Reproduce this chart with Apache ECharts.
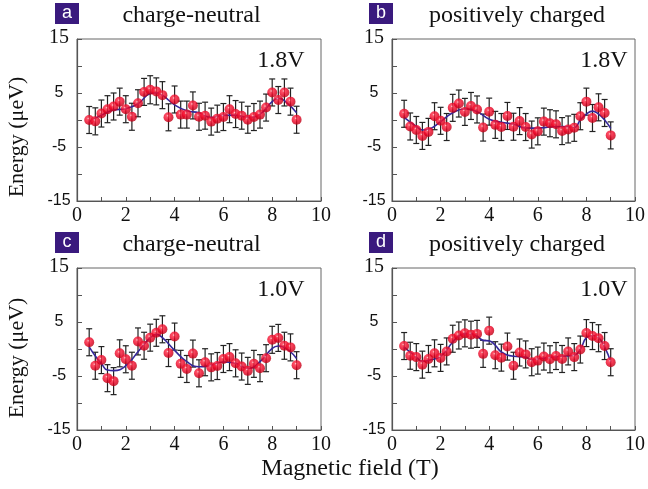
<!DOCTYPE html>
<html>
<head>
<meta charset="utf-8">
<script src="https://cdn.jsdelivr.net/npm/echarts@6/dist/echarts.min.js"></script>
<style>html,body{margin:0;padding:0;background:#fff}#c{width:648px;height:489px}</style>
</head>
<body>
<div id="c"></div>
<script>
// ---- data ----
const fieldT = [0.5,0.75,1.0,1.25,1.5,1.75,2.0,2.25,2.5,2.75,3.0,3.25,3.5,3.75,4.0,4.25,4.5,4.75,5.0,5.25,5.5,5.75,6.0,6.25,6.5,6.75,7.0,7.25,7.5,7.75,8.0,8.25,8.5,8.75,9.0];

const energyA = [0,-0.25,1.2,2.0,2.5,3.4,2.0,0.6,3.1,5.2,5.6,5.3,4.6,0.5,3.8,1.0,1.0,2.7,0.6,0.8,-0.3,0.25,0.55,2.0,1.1,0.8,0.05,0.55,1.0,2.3,5.1,3.7,5.1,3.4,0.05];
const energyB = [1.15,-1.2,-1.85,-2.95,-2.2,0.7,-0.15,-1.3,2.25,3.05,1.5,2.6,1.95,-1.4,1.55,-0.9,-1.3,0.75,-1.25,-0.2,-1.3,-2.7,-2.1,-0.3,-0.6,-0.8,-2.05,-1.75,-1.45,0.7,3.4,0.37,2.35,1.3,-2.85];
const energyC = [1.25,-3.1,-2.05,-5.4,-5.95,-0.8,-1.9,-3.1,1.4,0.6,2.1,3.0,3.65,-0.75,2.3,-2.75,-3.7,-0.85,-4.5,-2.45,-3.4,-3.15,-1.85,-1.5,-2.65,-3.25,-4.05,-2.75,-3.55,-1.7,1.7,2.05,0.6,0.3,-3.0];
const energyD = [0.55,-1.25,-1.5,-2.9,-1.85,-0.8,-1.65,-0.45,1.9,2.5,2.9,2.65,2.8,-0.9,3.4,-1.15,-1.6,0.45,-3.1,-0.65,-1.0,-2.45,-2.15,-1.4,-1.9,-1.3,-1.85,-0.45,-1.5,-0.1,2.95,2.4,2.0,0.55,-2.45];

const errA = [2.5,2.5,2.5,2.5,2.5,2.5,2.5,2.5,2.5,2.5,2.6,2.5,2.5,2.5,2.5,2.5,2.5,2.5,2.5,2.5,2.5,2.5,2.5,2.5,2.5,2.5,2.5,2.5,2.5,2.5,2.5,2.5,2.5,2.5,2.5];
const errB = [2.5,2.5,2.5,2.5,2.5,2.5,2.5,2.5,2.5,2.5,2.5,2.5,2.5,2.5,2.5,2.5,2.5,2.5,2.5,2.5,2.5,2.5,2.5,2.5,2.5,2.5,2.5,2.5,2.5,2.5,2.5,2.5,2.5,2.5,2.5];
const errC = [2.5,2.5,2.5,2.5,2.5,2.5,2.5,2.5,2.5,2.5,2.5,2.5,2.5,2.5,2.5,2.5,2.5,2.5,2.5,2.5,2.5,2.5,2.5,2.5,2.5,2.5,2.5,2.5,2.5,2.5,2.5,2.5,2.5,2.5,2.5];
const errD = [2.5,2.5,2.5,2.5,2.5,2.5,2.5,2.5,2.5,2.5,2.5,2.5,2.5,2.5,2.5,2.5,2.5,2.5,2.5,2.5,2.5,2.5,2.5,2.5,2.5,2.5,2.5,2.5,2.5,2.5,2.5,2.5,2.5,2.5,2.5];

const fitXA = [0.5,1.0,1.5,2.0,2.5,3.0,3.25,3.5,4.0,4.5,5.0,5.5,6.0,6.5,7.0,7.5,8.0,8.25,8.5,9.0];
const fitYA = [-0.3,0.9,1.85,2.1,3.0,4.9,5.05,4.6,2.8,1.7,1.35,0.45,0.85,0.9,0.45,1.1,3.4,4.0,3.6,1.35];
const fitXB = [0.5,1.0,1.25,1.5,2.0,2.5,3.0,3.5,4.0,4.5,5.0,5.5,6.0,6.5,7.0,7.5,7.75,8.0,8.25,8.5,8.75,9.0];
const fitYB = [0.5,-1.2,-1.85,-1.7,-0.3,1.35,2.05,1.55,0.15,-0.4,-0.8,-1.45,-1.5,-1.3,-1.2,-1.35,0,1.1,1.65,1.1,0,-1.55];
const fitXC = [0.5,0.75,1.0,1.25,1.5,2.0,2.5,3.0,3.25,3.5,4.0,4.5,5.0,5.5,6.0,6.5,7.0,7.5,8.0,8.25,8.5,9.0];
const fitYC = [0.4,-1.3,-2.7,-3.9,-4.0,-3.1,-0.5,2.1,2.7,2.1,-0.25,-2.35,-3.3,-3.0,-2.4,-2.65,-3.6,-2.35,0.1,0.55,0.3,-1.75];
const fitXD = [0.5,1.0,1.25,1.5,2.0,2.5,2.75,3.0,3.25,3.5,3.75,4.0,4.25,4.5,5.0,5.5,5.75,6.0,6.5,7.0,7.5,7.75,8.0,8.25,8.5,8.75,9.0];
const fitYD = [0.35,-1.5,-2.3,-2.1,-1.35,1.3,2.45,2.85,2.85,2.35,1.6,1.5,0.7,-0.55,-1.35,-1.5,-2.0,-1.85,-1.55,-1.35,-1.15,-0.05,2.1,2.5,2.1,0.4,-2.4];

const xTicksShown = [0,2,4,6,8,10];
const yTicksShown = [15,5,-5,-15];

const panelLetters = ['a','b','c','d'];
const panelTitles = ['charge-neutral','positively charged','charge-neutral','positively charged'];
const voltages = ['1.8V','1.8V','1.0V','1.0V'];

// ---- chart ----
const chart = echarts.init(document.getElementById('c'), null, {renderer:'canvas'});
const SERIF = 'Liberation Serif';
const SANS = 'Liberation Sans';

const grids = [
  {left:77, top:39, width:244, height:162},
  {left:392, top:39, width:244, height:162},
  {left:77, top:268, width:244, height:162},
  {left:392, top:268, width:244, height:162}
];
const energies = [energyA, energyB, energyC, energyD];
const errs = [errA, errB, errC, errD];
const fitXs = [fitXA, fitXB, fitXC, fitXD];
const fitYs = [fitYA, fitYB, fitYC, fitYD];

const axisColor = '#555';
const xAxes = [], yAxes = [], series = [];
grids.forEach((g, i) => {
  xAxes.push({
    gridIndex:i, type:'value', min:0, max:10, interval:1,
    axisLine:{show:true, onZero:false, lineStyle:{color:axisColor, width:1.2}},
    axisTick:{show:true, inside:true, length:4, lineStyle:{color:axisColor}},
    splitLine:{show:false},
    axisLabel:{show:true, margin:5, color:'#111', fontFamily:SERIF, fontSize:20,
      formatter: v => xTicksShown.indexOf(v) >= 0 ? String(v) : ''}
  });
  yAxes.push({
    gridIndex:i, type:'value', min:-15, max:15, interval:5,
    axisLine:{show:true, onZero:false, lineStyle:{color:axisColor, width:1.2}},
    axisTick:{show:true, inside:true, length:5, lineStyle:{color:axisColor}},
    splitLine:{show:false},
    axisLabel:{show:true, margin:18, align:'center', color:'#111',
      formatter: v => yTicksShown.indexOf(v) < 0 ? '' : (v === 15 ? '{r|15}' : '{s|' + v + '}'),
      rich:{ r:{fontFamily:SERIF, fontSize:20, color:'#111', padding:[0,0,3,0]}, s:{fontFamily:SANS, fontSize:16, color:'#111'} }
    }
  });
  const pts = fieldT.map((x, k) => [x, energies[i][k], errs[i][k]]);
  series.push({
    type:'custom', xAxisIndex:i, yAxisIndex:i, z:2,
    data: pts,
    renderItem: (params, api) => {
      const x = api.value(0), y = api.value(1), e = api.value(2);
      const top = api.coord([x, y + e]);
      const bot = api.coord([x, y - e]);
      const cw = 3;
      const ls = {stroke:'#222', lineWidth:1.2};
      return {type:'group', children:[
        {type:'line', shape:{x1:top[0], y1:top[1], x2:bot[0], y2:bot[1]}, style:ls},
        {type:'line', shape:{x1:top[0]-cw, y1:top[1], x2:top[0]+cw, y2:top[1]}, style:ls},
        {type:'line', shape:{x1:bot[0]-cw, y1:bot[1], x2:bot[0]+cw, y2:bot[1]}, style:ls}
      ]};
    },
    silent:true
  });
  series.push({
    type:'line', xAxisIndex:i, yAxisIndex:i, z:3,
    data: fitXs[i].map((x, k) => [x, fitYs[i][k]]),
    smooth:0.5, showSymbol:false, symbol:'none',
    lineStyle:{color:'#35279a', width:1.6}, silent:true
  });
  series.push({
    type:'scatter', xAxisIndex:i, yAxisIndex:i, z:4,
    data: pts.map(p => [p[0], p[1]]),
    symbol:'circle', symbolSize:10,
    itemStyle:{
      color:{type:'radial', x:0.4, y:0.35, r:0.65, colorStops:[
        {offset:0, color:'#ffc4cc'}, {offset:0.18, color:'#ff2a44'}, {offset:0.6, color:'#ea0022'}, {offset:1, color:'#bb0014'}]},
      borderWidth:0
    },
    silent:true
  });
});

const graphics = [];
const boxPos = [[55,3],[369,3],[55,232],[369,232]];
const titlePos = [[191.5,16],[517,16],[191.5,245],[517,245]];
const voltPos = [[281,61],[604,61],[281,290],[604,290]];
for (let i = 0; i < 4; i++) {
  graphics.push({type:'rect', left:boxPos[i][0], top:boxPos[i][1], shape:{width:24, height:21}, style:{fill:'#3a1a7e'}});
  graphics.push({type:'text', x:boxPos[i][0]+12, y:boxPos[i][1]+10.5, style:{text:panelLetters[i], fill:'#fff', font:'18px ' + SANS, textAlign:'center', textVerticalAlign:'middle'}});
  graphics.push({type:'text', x:titlePos[i][0], y:titlePos[i][1], style:{text:panelTitles[i], fill:'#111', font:'24px ' + SERIF, textAlign:'center', textVerticalAlign:'middle'}});
  graphics.push({type:'text', x:voltPos[i][0], y:voltPos[i][1], style:{text:voltages[i], fill:'#111', font:'24px ' + SERIF, textAlign:'center', textVerticalAlign:'middle'}});
}
graphics.push({type:'text', x:17, y:137, rotation:Math.PI/2, style:{text:'Energy (μeV)', fill:'#111', font:'22px ' + SERIF, textAlign:'center', textVerticalAlign:'middle'}});
graphics.push({type:'text', x:17, y:358, rotation:Math.PI/2, style:{text:'Energy (μeV)', fill:'#111', font:'22px ' + SERIF, textAlign:'center', textVerticalAlign:'middle'}});
graphics.push({type:'text', x:350, y:469, style:{text:'Magnetic field (T)', fill:'#111', font:'24px ' + SERIF, textAlign:'center', textVerticalAlign:'middle'}});

chart.setOption({
  animation:false,
  backgroundColor:'#fff',
  grid: grids.map(g => Object.assign({show:true, borderColor:'#666', borderWidth:1, backgroundColor:'transparent'}, g)),
  xAxis:xAxes, yAxis:yAxes, series:series, graphic:graphics
});
</script>
</body>
</html>
